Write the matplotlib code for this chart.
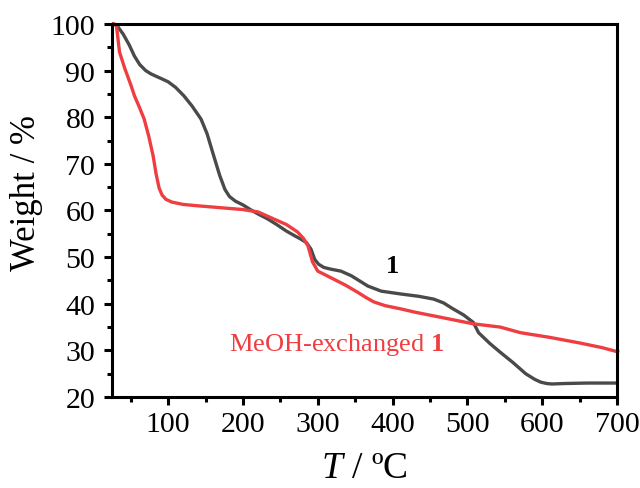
import matplotlib
matplotlib.use("Agg")
import matplotlib.pyplot as plt
from matplotlib.ticker import MultipleLocator

plt.rcParams['font.family'] = ['Liberation Serif', 'DejaVu Serif']
plt.rcParams['mathtext.fontset'] = 'custom'
plt.rcParams['mathtext.it'] = 'Liberation Serif:italic'
plt.rcParams['mathtext.rm'] = 'Liberation Serif'
plt.rcParams['mathtext.bf'] = 'Liberation Serif:bold'

# Compound 1
t_1 = [27, 31, 40, 48, 55, 62, 70, 77, 85, 92, 100, 110, 121, 132, 144, 152, 161, 169,
       176, 182, 190, 200, 212, 222, 233, 245, 258, 270, 277, 285, 291, 296, 301, 308,
       318, 331, 345, 355, 367, 385, 411, 435, 455, 468, 481, 495, 508, 515, 530, 544,
       561, 578, 590, 598, 606, 613, 630, 660, 700]
w_1 = [100, 99.8, 97.8, 95.5, 93.1, 91.3, 90.0, 89.3, 88.7, 88.2, 87.6, 86.4, 84.6, 82.4,
       79.6, 76.5, 71.7, 67.5, 64.5, 63.0, 62.0, 61.2, 60.0, 59.1, 58.2, 57.0, 55.6, 54.5,
       53.9, 53.1, 51.7, 49.5, 48.5, 47.8, 47.4, 47.0, 46.0, 45.0, 43.8, 42.7, 42.1, 41.6,
       41.0, 40.2, 38.9, 37.6, 36.0, 33.8, 31.5, 29.6, 27.4, 25.0, 23.8, 23.2, 22.9, 22.8,
       22.9, 23.0, 23.0]

# MeOH-exchanged 1
t_me = [27, 31, 35, 42, 50, 55, 62, 68, 74, 80, 84, 88, 92, 97, 105, 120, 140, 170, 200,
        220, 241, 258, 273, 281, 287, 293, 300, 310, 321, 337, 353, 365, 375, 390, 411,
        430, 455, 480, 508, 544, 571, 610, 650, 680, 701]
w_me = [100, 99.6, 94.0, 90.5, 87.0, 84.6, 82.0, 79.6, 76.0, 71.7, 67.8, 64.8, 63.3, 62.4,
        61.8, 61.3, 61.0, 60.6, 60.2, 59.7, 58.2, 57.0, 55.4, 54.0, 52.4, 49.0, 47.0, 46.2,
        45.3, 44.0, 42.5, 41.3, 40.4, 39.6, 38.9, 38.2, 37.4, 36.6, 35.7, 35.0, 33.8, 32.8,
        31.6, 30.6, 29.7]

fig = plt.figure(figsize=(6.4, 4.89), dpi=100)
ax = fig.add_axes([0.175, 0.186, 0.789, 0.763])

ax.plot(t_1, w_1, color='#4a4a4a', lw=2.4, solid_joinstyle='round', clip_on=False)
ax.plot(t_me, w_me, color='#ef3e42', lw=2.4, solid_joinstyle='round', clip_on=False)

ax.set_xlim(25, 700)
ax.set_ylim(20, 100)
ax.xaxis.set_major_locator(MultipleLocator(100))
ax.xaxis.set_minor_locator(MultipleLocator(50))
ax.yaxis.set_major_locator(MultipleLocator(10))
ax.yaxis.set_minor_locator(MultipleLocator(5))

for s in ax.spines.values():
    s.set_linewidth(2.2)
ax.tick_params(which='major', direction='out', length=6, width=2.2, labelsize=21.5,
               top=False, right=False)
ax.tick_params(axis='y', which='major', pad=6)
ax.tick_params(axis='x', which='major', pad=4)
ax.tick_params(which='minor', direction='out', length=3.5, width=2.2,
               top=False, right=False)

ax.set_xlabel(r'$T$ / ºC', fontsize=27, labelpad=10)
ax.set_ylabel('Weight / %', fontsize=25)
ax.yaxis.set_label_coords(-0.137, 0.55)

ax.text(400, 48.1, '1', fontsize=19, fontweight='bold', color='black',
        ha='center', va='center')
ax.text(181, 31.4, r'MeOH-exchanged $\mathbf{1}$', fontsize=19, color='#ef3e42',
        ha='left', va='center')

fig.savefig('out.png', dpi=100)
